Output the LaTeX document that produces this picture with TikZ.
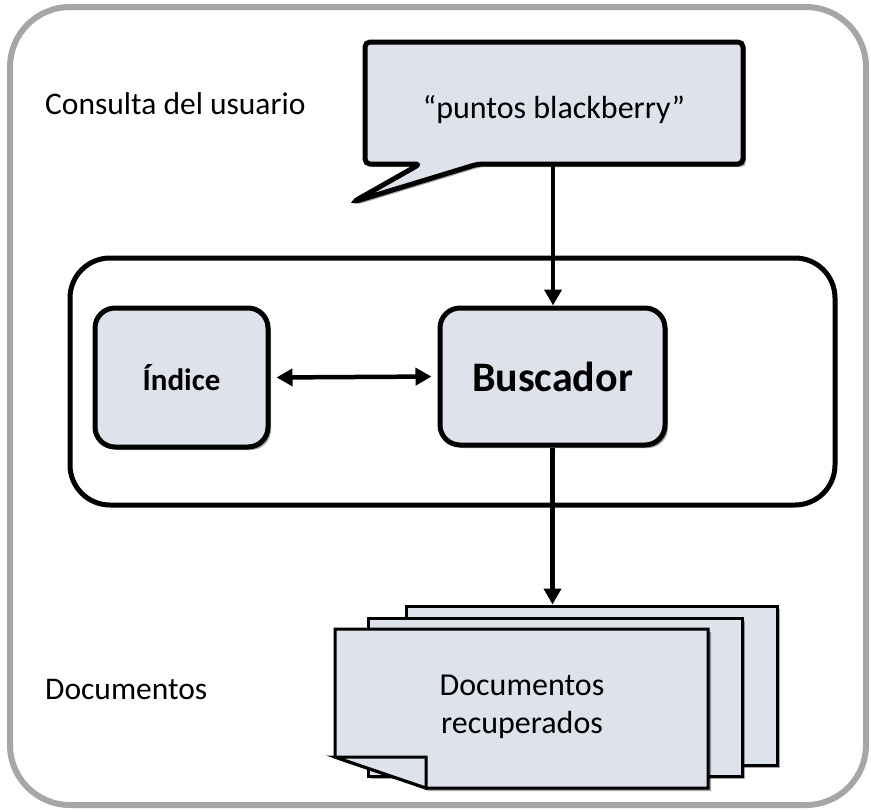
\documentclass[tikz,border=0pt]{standalone}
\usepackage{fontspec}
\setmainfont{Carlito}
\usetikzlibrary{shadows,arrows.meta}
\definecolor{boxfill}{RGB}{222,226,235}
\definecolor{framegray}{RGB}{166,166,166}
\begin{document}
\begin{tikzpicture}[x=1pt,y=-1pt,
  shad/.style={drop shadow={shadow xshift=3pt,shadow yshift=-3pt,opacity=0.35,fill=black}},
  rbox/.style={draw=black,line width=5pt,fill=boxfill,rounded corners=20pt,shad,align=center},
  page/.style={draw=black,line width=3pt,fill=boxfill,shad},
  conn/.style={line width=4.5pt,-{Triangle[length=16pt,width=17pt]}},
  dconn/.style={line width=4.5pt,{Triangle[length=16pt,width=17pt]}-{Triangle[length=16pt,width=17pt]},shorten <=6pt,shorten >=6pt},
  lbl/.style={anchor=west,inner sep=0pt,font=\fontsize{31.5}{38}\selectfont},
  txt/.style={font=\fontsize{32}{38}\selectfont,align=center}
]
\useasboundingbox (0,0) rectangle (871,812);
% outer frame
\draw[framegray,line width=6pt,rounded corners=60pt] (10,7) rectangle (866,805);
% inner frame
\node[draw=black,line width=5pt,rounded corners=40pt,minimum width=765pt,minimum height=247pt] (sys) at (452.5,381.5) {};
% speech bubble
\draw[page,line width=5pt,rounded corners=5pt] (365,42) -- (743,42) -- (743,164) -- (478,164) -- (353,202) -- (420,164) -- (365,164) -- cycle;
\node[minimum width=378pt,minimum height=122pt] (bubble) at (553,103) {};
\node[txt] (qtext) at (554,110) {“puntos blackberry”};
% boxes
\node[rbox,minimum width=173pt,minimum height=139pt,font=\bfseries\fontsize{31}{36}\selectfont] (indice) at (181.5,377.5) {Índice};
\node[rbox,minimum width=225pt,minimum height=137pt,font=\bfseries\fontsize{42}{48}\selectfont] (busc) at (552.5,376.5) {Buscador};
% documents
\node[page,minimum width=371pt,minimum height=159pt] (back) at (591.5,685.5) {};
\node[page,minimum width=374pt,minimum height=158pt] (mid) at (555,697) {};
\draw[page] (335,629) -- (708,629) -- (708,788) -- (426,788) -- (335,757) -- cycle;
\draw[draw=black,line width=3pt,fill=boxfill,line join=miter] (335,757) -- (426,757) -- (426,788) -- cycle;
\node[txt] (front) at (522,707) {Documentos\\recuperados};
% labels
\node[lbl] (lq) at (45,104) {Consulta del usuario};
\node[lbl] (ld) at (45,690) {Documentos};
% connectors
\draw[conn] (bubble.south) -- (bubble.south |- busc.north);
\draw[dconn] (indice.east) -- (busc.west);
\draw[conn] (busc.south) -- (busc.south |- back.north);
\end{tikzpicture}
\end{document}
